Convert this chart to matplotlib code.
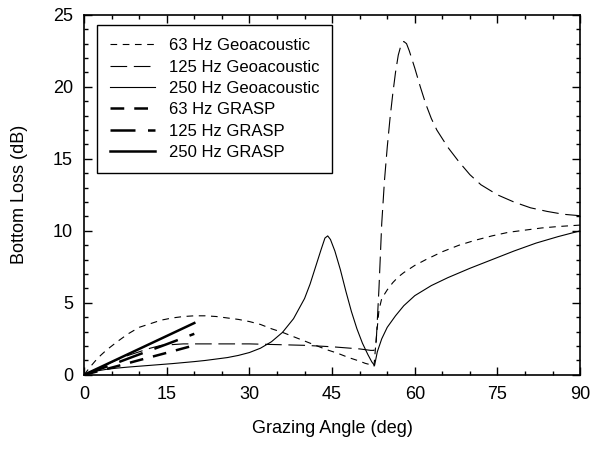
import numpy as np
import matplotlib.pyplot as plt
from matplotlib.ticker import MultipleLocator

plt.rcParams['font.family'] = ['Liberation Sans', 'DejaVu Sans']

# 63 Hz Geoacoustic
ang63 = [0, 1, 2, 3, 4, 6, 8, 10, 12, 14, 16, 18, 20, 22, 24, 26, 28, 30, 32, 34, 36, 38,
         40, 42, 44, 46, 48, 50, 51, 52, 52.6, 53, 53.5, 54, 55, 56, 57, 58, 60, 62, 65,
         68, 71, 74, 77, 80, 83, 86, 90]
bl63 = [0, 0.5, 0.95, 1.35, 1.7, 2.3, 2.85, 3.3, 3.55, 3.8, 3.95, 4.05, 4.1, 4.1, 4.05,
        3.95, 3.85, 3.7, 3.5, 3.2, 2.95, 2.65, 2.35, 2.05, 1.75, 1.5, 1.2, 0.95, 0.8, 0.7,
        0.6, 2.5, 4.5, 5.3, 5.9, 6.4, 6.8, 7.1, 7.6, 8.0, 8.55, 9.0, 9.35, 9.65, 9.9,
        10.05, 10.2, 10.3, 10.4]

# 125 Hz Geoacoustic
ang125 = [0, 2, 4, 6, 8, 10, 12, 14, 16, 18, 20, 25, 30, 35, 40, 45, 50, 52, 52.6, 53,
          53.5, 54, 54.5, 55, 55.5, 56, 56.5, 57, 57.5, 58, 58.5, 59, 60, 61, 62, 63, 64,
          66, 68, 70, 72, 75, 78, 81, 84, 87, 90]
bl125 = [0, 0.35, 0.7, 1.05, 1.35, 1.6, 1.85, 2.05, 2.1, 2.15, 2.15, 2.15, 2.15, 2.1,
         2.05, 1.95, 1.8, 1.7, 1.7, 2.3, 6.0, 10.5, 13.5, 15.8, 17.8, 19.5, 21.0, 22.2,
         22.9, 23.15, 23.0, 22.5, 21.3, 20.0, 18.8, 17.8, 17.0, 15.8, 14.8, 13.9, 13.2,
         12.5, 12.0, 11.6, 11.35, 11.15, 11.05]

# 250 Hz Geoacoustic
ang250 = [0, 1, 2, 4, 6, 8, 10, 12, 14, 16, 18, 20, 22, 24, 26, 28, 30, 32, 34, 36, 38,
          40, 41, 42, 43, 43.7, 44.2, 44.7, 45.5, 46.5, 47.5, 48.5, 49.5, 50.5, 51.5,
          52.2, 52.7, 53.2, 54, 55, 56.5, 58, 60, 63, 66, 70, 74, 78, 82, 86, 90]
bl250 = [0, 0.15, 0.25, 0.38, 0.47, 0.54, 0.6, 0.66, 0.72, 0.78, 0.85, 0.92, 1.0, 1.1,
         1.2, 1.35, 1.55, 1.85, 2.3, 2.95, 3.9, 5.3, 6.3, 7.5, 8.7, 9.5, 9.65, 9.4, 8.6,
         7.3, 5.8, 4.4, 3.2, 2.2, 1.4, 0.9, 0.65, 1.6, 2.5, 3.3, 4.1, 4.8, 5.5, 6.2, 6.75,
         7.4, 8.0, 8.6, 9.15, 9.6, 10.0]

# GRASP
ang_grasp = [0, 5, 10, 15, 20]
grasp63 = [0, 0.5, 1.02, 1.53, 2.05]
grasp125 = [0, 0.7, 1.42, 2.13, 2.85]
grasp250 = [0, 0.9, 1.8, 2.7, 3.6]

fig = plt.figure(figsize=(5.92, 4.5), dpi=100)
ax = fig.add_axes([0.142, 0.167, 0.838, 0.8])

ax.plot(ang63, bl63, color='black', lw=0.8, dashes=(6, 5), label='63 Hz Geoacoustic')
ax.plot(ang125, bl125, color='black', lw=0.8, dashes=(15, 6), label='125 Hz Geoacoustic')
ax.plot(ang250, bl250, color='black', lw=0.8, label='250 Hz Geoacoustic')
ax.plot(ang_grasp, grasp63, color='black', lw=1.8, dashes=(5.5, 4), label='63 Hz GRASP')
ax.plot(ang_grasp, grasp125, color='black', lw=1.8, dashes=(10, 5), label='125 Hz GRASP')
ax.plot(ang_grasp, grasp250, color='black', lw=1.8, label='250 Hz GRASP')

ax.set_xlim(0, 90)
ax.set_ylim(0, 25)
ax.xaxis.set_major_locator(MultipleLocator(15))
ax.xaxis.set_minor_locator(MultipleLocator(5))
ax.yaxis.set_major_locator(MultipleLocator(5))
ax.yaxis.set_minor_locator(MultipleLocator(1))
ax.tick_params(which='both', direction='in', top=True, right=True, labelsize=13, width=1)
ax.tick_params(which='major', length=6, pad=8)
ax.tick_params(which='minor', length=3)
for s in ax.spines.values():
    s.set_linewidth(1.2)

ax.set_xlabel('Grazing Angle (deg)', fontsize=13, labelpad=12)
ax.set_ylabel('Bottom Loss (dB)', fontsize=13, labelpad=18)

leg = ax.legend(loc='upper left', bbox_to_anchor=(0.026, 0.972), borderaxespad=0,
                fontsize=12, frameon=True, fancybox=False, edgecolor='black',
                framealpha=1, handlelength=2.7, labelspacing=0.38, borderpad=0.8,
                handletextpad=0.8)
leg.get_frame().set_linewidth(1.0)

fig.savefig('out.png', dpi=100)
